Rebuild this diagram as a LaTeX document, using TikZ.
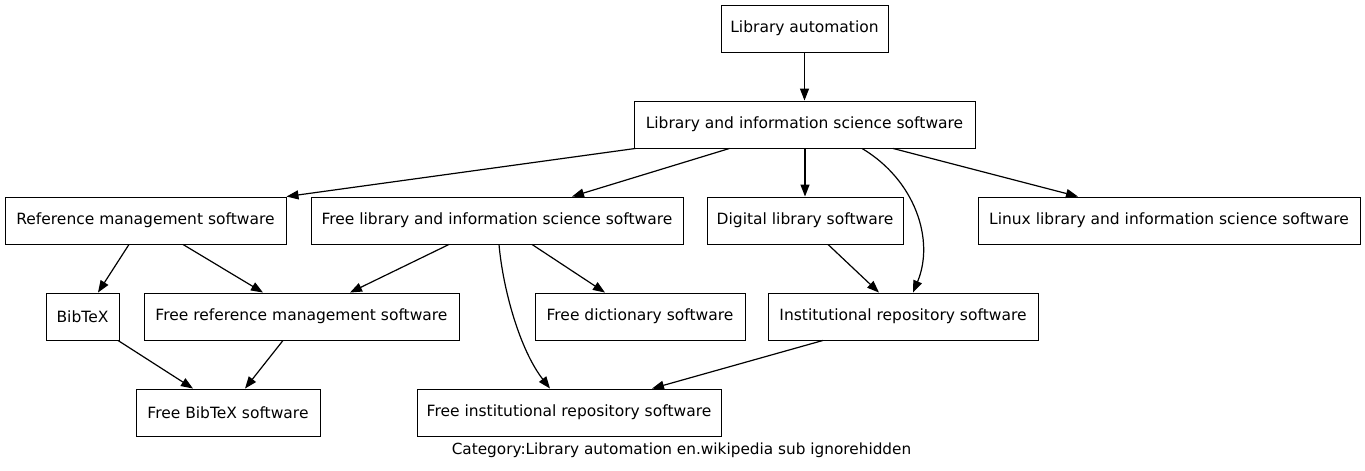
\documentclass[tikz,border=0pt]{standalone}
\usepackage{fontspec}
\setmainfont{DejaVu Sans}
\usetikzlibrary{arrows.meta}

\tikzset{
  box/.style={draw=black, line width=0.9pt, rectangle, minimum height=47pt,
    inner xsep=6pt, font=\fontsize{15.5}{18}\selectfont},
  edge/.style={draw=black, line width=1.2pt, -{Triangle[length=12pt,width=9pt]}}
}

\begin{document}
\begin{tikzpicture}[x=1pt, y=-1pt]
            \useasboundingbox (0,0) rectangle (1365,471);
            \node [box, minimum width=167] (la) at (804.5,28.5) {Library automation};
            \node [box, minimum width=341] (liss) at (804.5,124.5) {Library and information science software};
            \node [box, minimum width=281] (rms) at (145.5,220.5) {Reference management software};
            \node [box, minimum width=372] (fliss) at (497,220.5) {Free library and information science software};
            \node [box, minimum width=196] (dls) at (805,220.5) {Digital library software};
            \node [box, minimum width=382] (linux) at (1169,220.5) {Linux library and information science software};
            \node [box, minimum width=73] (bib) at (82.5,316.5) {BibTeX};
            \node [box, minimum width=315] (frms) at (301.5,316.5) {Free reference management software};
            \node [box, minimum width=210] (fds) at (640,316.5) {Free dictionary software};
            \node [box, minimum width=270] (irs) at (903,316.5) {Institutional repository software};
            \node [box, minimum width=184] (fbs) at (228,412.5) {Free BibTeX software};
            \node [box, minimum width=304] (firs) at (569,412.5) {Free institutional repository software};
            \node [font=\fontsize{15.3}{18}\selectfont] (cap) at (681.5,450) {Category:Library automation en.wikipedia sub ignorehidden};
            \draw [edge] (la.south) -- (liss.north);
            \draw [edge] ([xshift=-169pt]liss.south) -- ([xshift=141pt]rms.north);
            \draw [edge] ([xshift=-75pt]liss.south) -- ([xshift=75pt]fliss.north);
            \draw [edge] ([xshift=0.5pt]liss.south) -- (dls.north);
            \draw [edge] ([xshift=57.5pt]liss.south) .. controls (915,180) and (935,240) .. ([xshift=10pt]irs.north);
            \draw [edge] ([xshift=88.5pt]liss.south) -- ([xshift=-91pt]linux.north);
            \draw [edge] ([xshift=-16.5pt]rms.south) -- ([xshift=15.5pt]bib.north);
            \draw [edge] ([xshift=37.5pt]rms.south) -- ([xshift=-38.5pt]frms.north);
            \draw [edge] ([xshift=-48pt]fliss.south) -- ([xshift=48.5pt]frms.north);
            \draw [edge] ([xshift=2pt]fliss.south) .. controls (503,290) and (520,350) .. ([xshift=-19pt]firs.north);
            \draw [edge] ([xshift=35pt]fliss.south) -- ([xshift=-35pt]fds.north);
            \draw [edge] ([xshift=23pt]dls.south) -- ([xshift=-24pt]irs.north);
            \draw [edge] ([xshift=35.5pt]bib.south) -- ([xshift=-35pt]fbs.north);
            \draw [edge] ([xshift=-18.5pt]frms.south) -- ([xshift=17pt]fbs.north);
            \draw [edge] ([xshift=-80pt]irs.south) -- ([xshift=83pt]firs.north);
\end{tikzpicture}
\end{document}
